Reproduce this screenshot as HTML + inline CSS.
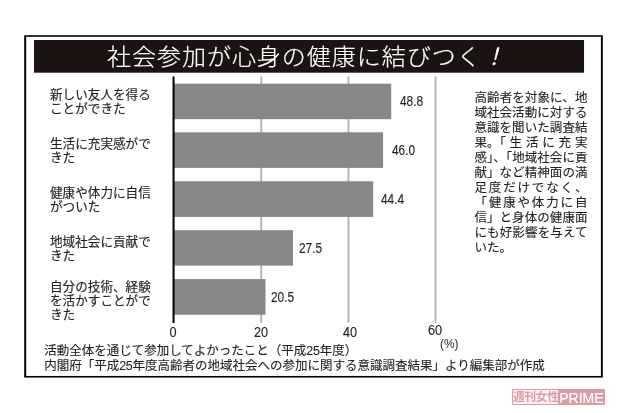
<!DOCTYPE html>
<html lang="ja">
<head>
<meta charset="utf-8">
<title>社会参加が心身の健康に結びつく！</title>
<style>
html,body{margin:0;padding:0;background:#fff;}
body{text-spacing-trim:space-all;width:620px;height:413px;position:relative;overflow:hidden;font-family:"Liberation Sans","Noto Sans CJK JP",sans-serif;color:#231f20;}
.abs{position:absolute;}
#title{left:34px;top:40px;width:550px;height:33px;color:#fff;font-family:"Liberation Sans","Noto Sans CJK JP",sans-serif;font-weight:300;font-size:23px;line-height:33px;white-space:nowrap;}
#title span{position:absolute;left:72.6px;top:1px;letter-spacing:0.9px;-webkit-text-stroke:0.2px #fff;transform-origin:0 50%;transform:scaleX(1.045);}
#title i{-webkit-text-stroke:0.5px #fff;}
.lab{left:50px;font-family:"Liberation Sans","Noto Sans CJK JP",sans-serif;font-size:12.6px;line-height:14px;-webkit-text-stroke:0.15px #231f20;white-space:nowrap;color:#231f20;}
.val{font-size:13.7px;line-height:14px;white-space:nowrap;color:#231f20;transform-origin:0 50%;transform:scale(.865,1.06);-webkit-text-stroke:0.12px #231f20;}
.tick{font-size:13.7px;line-height:14px;top:326px;width:30px;text-align:center;color:#231f20;transform:scale(.93,1.04);-webkit-text-stroke:0.12px #231f20;}
#desc{left:474.4px;top:91.2px;width:113.1px;font-family:"Liberation Sans","Noto Sans CJK JP",sans-serif;font-size:12.5px;line-height:15px;color:#231f20;-webkit-text-stroke:0.12px #231f20;}
#desc div{white-space:nowrap;text-align:justify;text-align-last:justify;}
#desc div.l{text-align-last:left;}
.h{font-feature-settings:"halt";}
.nb{display:inline-block;}
.d{letter-spacing:-0.3px;}
.foot{left:44.2px;font-family:"Liberation Sans","Noto Sans CJK JP",sans-serif;font-size:12.5px;line-height:15px;white-space:nowrap;color:#231f20;-webkit-text-stroke:0.12px #231f20;}
#logo{left:512px;top:389px;width:93px;height:16px;}
#logoL{left:0;top:0;width:45px;height:14px;border:1px solid #dc9ba6;background:#fdf1f2;color:#dd9ca7;font-family:"Liberation Sans","Noto Sans CJK JP",sans-serif;font-weight:700;font-size:11.6px;line-height:13.4px;text-align:center;letter-spacing:-0.2px;white-space:nowrap;}
#logoR{left:47px;top:0;width:46px;height:16px;background:#db9ca6;color:#fff;font-family:"Liberation Sans",sans-serif;font-size:15.4px;line-height:17.5px;-webkit-text-stroke:0.2px #fff;text-align:center;letter-spacing:0;overflow:visible;white-space:nowrap;}
#logoR span{display:inline-block;transform:scaleX(.91);transform-origin:50% 50%;margin:0 -8px;position:relative;left:-0.3px;}
</style>
</head>
<body>
<svg class="abs" style="left:0;top:0" width="620" height="413" viewBox="0 0 620 413">
<rect x="24.2" y="35.2" width="578.6" height="342.35" fill="#000"/>
<rect x="26.2" y="36.8" width="574.7" height="339.15" fill="#fff"/>
<rect x="34" y="40" width="550.05" height="32.7" fill="#1a1311"/>
<g fill="#b3b3b3">
<rect x="260.3" y="76.5" width="1.9" height="246.3"/>
<rect x="347.5" y="76.5" width="1.9" height="246.3"/>
<rect x="434.6" y="76.5" width="1.9" height="246.3"/>
</g>
<g fill="#878787">
<rect x="174" y="83.7" width="217.2" height="35.5"/>
<rect x="174" y="132.3" width="209.1" height="35.6"/>
<rect x="174" y="181.3" width="199.2" height="35.6"/>
<rect x="174" y="230.2" width="119" height="35.4"/>
<rect x="174" y="279.1" width="91.5" height="35.6"/>
</g>
<rect x="172.55" y="76.5" width="2" height="246.6" fill="#000"/>
</svg>
<div id="title" class="abs"><span>社会参加が心身の健康に結びつく<i>！</i></span></div>

<div class="abs val" style="left:399.7px;top:95px">48.8</div>
<div class="abs val" style="left:391.5px;top:144px">46.0</div>
<div class="abs val" style="left:381.3px;top:193px">44.4</div>
<div class="abs val" style="left:298.6px;top:242px">27.5</div>
<div class="abs val" style="left:270.8px;top:291px">20.5</div>

<div class="abs lab" style="top:88px">新しい友人を得る<br>ことができた</div>
<div class="abs lab" style="top:137px">生活に充実感がで<br>きた</div>
<div class="abs lab" style="top:186px">健康や体力に自信<br>がついた</div>
<div class="abs lab" style="top:235px">地域社会に貢献で<br>きた</div>
<div class="abs lab" style="top:280px">自分の技術、経験<br>を活かすことがで<br>きた</div>

<div class="abs tick" style="left:158px">0</div>
<div class="abs tick" style="left:246px">20</div>
<div class="abs tick" style="left:335px">40</div>
<div class="abs tick" style="left:420.2px;top:324px">60</div>
<div class="abs" style="left:439.8px;top:337px;font-size:13px;line-height:14px;transform-origin:0 50%;transform:scale(.92,.97);color:#231f20">(%)</div>

<div id="desc" class="abs">
<div>高齢者を対象に、地</div>
<div>域社会活動に対する</div>
<div>意識を聞いた調査結</div>
<div><span class="nb">果<span class="h">。</span>「</span>生活に充実</div>
<div>感<span class="h">」、</span>「地域社会に貢</div>
<div>献」など精神面の満</div>
<div>足度だけでなく、</div>
<div>「健康や体力に自</div>
<div>信」と身体の健康面</div>
<div>にも好影響を与えて</div>
<div class="l">いた。</div>
</div>

<div class="abs foot" style="top:343.8px">活動全体を通じて参加してよかったこと（平成<span class="d">25</span>年度）</div>
<div class="abs foot" style="top:358.8px">内閣府「平成<span class="d">25</span>年度高齢者の地域社会への参加に関する意識調査結果」より編集部が作成</div>

<div id="logo" class="abs">
<div id="logoL" class="abs">週刊女性</div>
<div id="logoR" class="abs"><span>PRIME</span></div>
</div>
</body>
</html>
